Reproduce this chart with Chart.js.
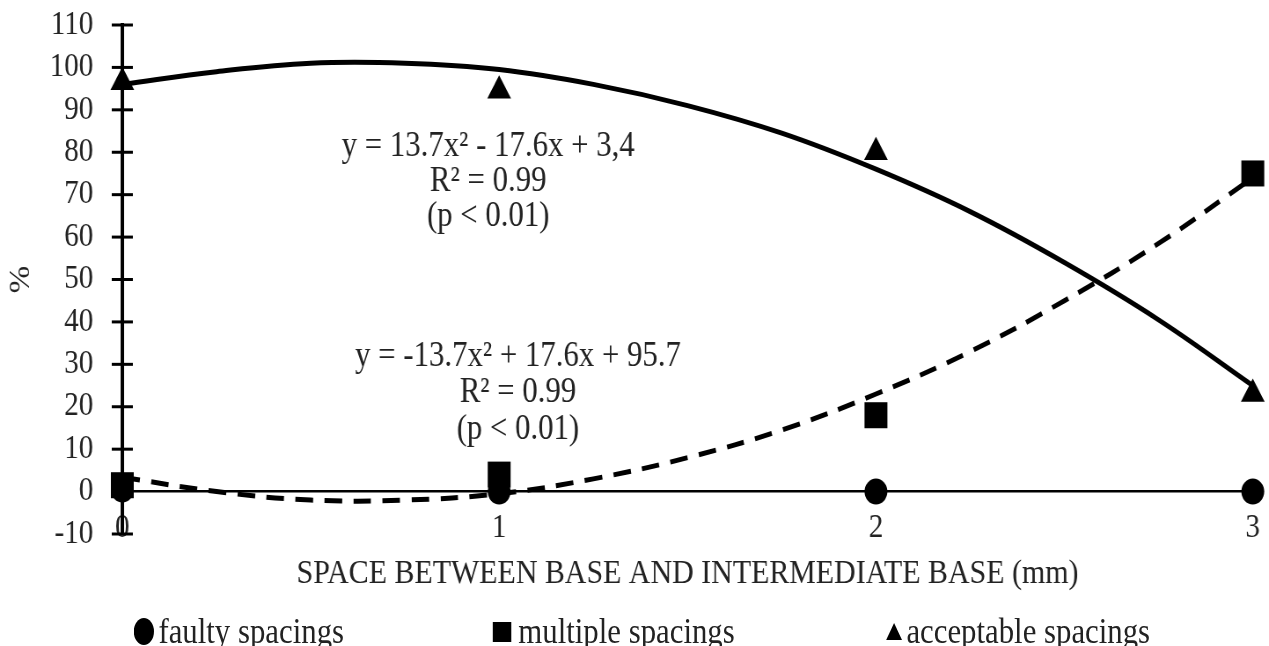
<!DOCTYPE html>
<html lang="en">
<head>
<meta charset="UTF-8" />
<title>Spacings vs space between base and intermediate base</title>
<script src="https://cdn.jsdelivr.net/npm/chart.js"></script>
<style>
  html, body { margin: 0; padding: 0; background: #fff; overflow: hidden; }
  /* the source figure is a bit squeezed horizontally, so draw wide and squeeze */
  #wrap { position: relative; width: 1442px; height: 646px; transform: scaleX(0.88); transform-origin: 0 0; }
  #chart-box { position: absolute; left: 0; top: 0; width: 1442px; height: 646px; }
  .legend-item { position: absolute; top: 612px; font: 35px "Liberation Serif", "Times New Roman", serif; color: #222; line-height: 40px; white-space: nowrap; }
  .mk { display: inline-block; vertical-align: middle; position: relative; top: -3px; }
  .mk-circle { width: 23px; height: 27px; border-radius: 50%; background: #000; margin-right: 5px; }
  .mk-square { width: 21px; height: 20px; background: #000; margin-right: 8px; }
  .mk-triangle { width: 0; height: 0; border-left: 9px solid transparent; border-right: 9px solid transparent; border-bottom: 17px solid #000; margin-right: 5px; }
</style>
</head>
<body>
<div id="wrap">
  <div id="chart-box"><canvas id="spacingChart"></canvas></div>
  <span class="legend-item" style="left:152px"><span class="mk mk-circle"></span>faulty spacings</span>
  <span class="legend-item" style="left:560px"><span class="mk mk-square"></span>multiple spacings</span>
  <span class="legend-item" style="left:1007px"><span class="mk mk-triangle"></span>acceptable spacings</span>
</div>

<script>
  // measured points (mm on x, % on y)
  const xTicks = [0, 1, 2, 3];
  const yTicks = [-10, 0, 10, 20, 30, 40, 50, 60, 70, 80, 90, 100, 110];
  const faulty = [0.5, 0, 0, 0];
  const multiple = [1.5, 4, 18, 75];
  const acceptable = [96.5, 94.5, 80, 23];

  // fitted curves, every 0.25 mm
  const trendX = [0, 0.25, 0.5, 0.75, 1, 1.25, 1.5, 1.75, 2, 2.25, 2.5, 2.75, 3];
  const acceptableTrend = [96, 99, 101, 101, 99.5, 96, 91, 84.5, 76, 66, 54, 40.5, 25];
  const multipleTrend = [3.4, 0, -2, -2, -0.5, 3, 8, 14.5, 23, 33, 45, 58.5, 74];

  // equation labels as printed in the figure
  const eqUpper = ["y = 13.7x\u00b2 - 17.6x + 3,4", "R\u00b2 = 0.99", "(p < 0.01)"];
  const eqLower = ["y = -13.7x\u00b2 + 17.6x + 95.7", "R\u00b2 = 0.99", "(p < 0.01)"];

  const pairs = (xs, ys) => xs.map((x, i) => ({ x: x, y: ys[i] }));

  Chart.defaults.font.family = '"Liberation Serif", "Times New Roman", serif';
  Chart.defaults.color = '#222';

  // tick marks crossing the y axis
  const crossTicks = {
    id: 'crossTicks',
    beforeDatasetsDraw(chart) {
      const { ctx, chartArea, scales: { y } } = chart;
      ctx.save();
      ctx.strokeStyle = '#000';
      ctx.lineWidth = 3;
      y.ticks.forEach(t => {
        const py = y.getPixelForValue(t.value);
        ctx.beginPath();
        ctx.moveTo(chartArea.left - 12, py);
        ctx.lineTo(chartArea.left + 12, py);
        ctx.stroke();
      });
      ctx.restore();
    }
  };

  // regression text blocks
  const equationLabels = {
    id: 'equationLabels',
    afterDatasetsDraw(chart, args, opts) {
      const { ctx, scales: { x, y } } = chart;
      ctx.save();
      ctx.font = opts.font;
      ctx.fillStyle = opts.color;
      ctx.textAlign = 'center';
      ctx.textBaseline = 'middle';
      opts.blocks.forEach(b => {
        const px = x.getPixelForValue(b.x);
        const py = y.getPixelForValue(b.y);
        b.lines.forEach((t, i) => ctx.fillText(t, px, py + i * b.gap));
      });
      ctx.restore();
    }
  };

  const chart = new Chart(document.getElementById('spacingChart'), {
    type: 'scatter',
    data: {
      datasets: [
        { label: 'faulty spacings', data: pairs(xTicks, faulty), pointStyle: 'circle', pointRadius: 13,
          backgroundColor: '#000', borderColor: '#000', borderWidth: 0, order: 2, clip: false },
        { label: 'multiple spacings', data: pairs(xTicks, multiple), pointStyle: 'rect', pointRadius: 18.4,
          backgroundColor: '#000', borderColor: '#000', borderWidth: 0, order: 1, clip: false },
        { label: 'acceptable spacings', data: pairs(xTicks, acceptable), pointStyle: 'triangle', pointRadius: 15.6,
          backgroundColor: '#000', borderColor: '#000', borderWidth: 0, order: 1, clip: false },
        { label: 'acceptable trend', data: pairs(trendX, acceptableTrend), showLine: true, pointRadius: 0,
          borderColor: '#000', borderWidth: 5, tension: 0.4, order: 3, clip: false },
        { label: 'multiple trend', data: pairs(trendX, multipleTrend), showLine: true, pointRadius: 0,
          borderColor: '#000', borderWidth: 5, borderDash: [20, 13], tension: 0.4, order: 3, clip: false }
      ]
    },
    options: {
      responsive: true,
      maintainAspectRatio: false,
      animation: false,
      layout: { padding: { top: 25, left: 0, right: 18, bottom: 52 } },
      scales: {
        x: {
          type: 'linear',
          min: 0,
          max: 3,
          afterBuildTicks: s => { s.ticks = xTicks.map(v => ({ value: v })); },
          // labels straddle the -10 line (mirror avoids clipping), title below them
          afterFit: s => { s.height = 60; s.paddingLeft = 0; s.paddingRight = 0; },
          border: { display: false },
          grid: { display: false, drawTicks: false },
          ticks: { mirror: true, padding: -14, autoSkip: false, color: '#222', font: { size: 33 } },
          title: { display: true, text: 'SPACE BETWEEN BASE AND INTERMEDIATE BASE (mm)', color: '#222',
                   font: { size: 34 }, padding: { top: 6, bottom: 0 } }
        },
        y: {
          min: -10,
          max: 110,
          afterBuildTicks: s => { s.ticks = yTicks.map(v => ({ value: v })); },
          afterFit: s => { s.width = 139; s.paddingTop = 0; s.paddingBottom = 0; },
          border: { display: true, color: '#000', width: 4 },
          grid: {
            drawTicks: false,
            lineWidth: 2.5,
            color: c => (c.tick && c.tick.value === 0) ? '#000' : 'rgba(0,0,0,0)'
          },
          ticks: { padding: 33, autoSkip: false, color: '#222', font: { size: 33 } },
          title: { display: true, text: '%', color: '#222', font: { size: 33 }, padding: { top: 5, bottom: 11 } }
        }
      },
      plugins: {
        legend: { display: false },
        tooltip: { enabled: false },
        equationLabels: {
          font: '35px "Liberation Serif", "Times New Roman", serif',
          color: '#222',
          blocks: [
            { x: 0.971, y: 81.2, gap: 35, lines: eqUpper },
            { x: 1.050, y: 31.8, gap: 36.5, lines: eqLower }
          ]
        }
      }
    },
    plugins: [crossTicks, equationLabels]
  });
</script>
</body>
</html>
